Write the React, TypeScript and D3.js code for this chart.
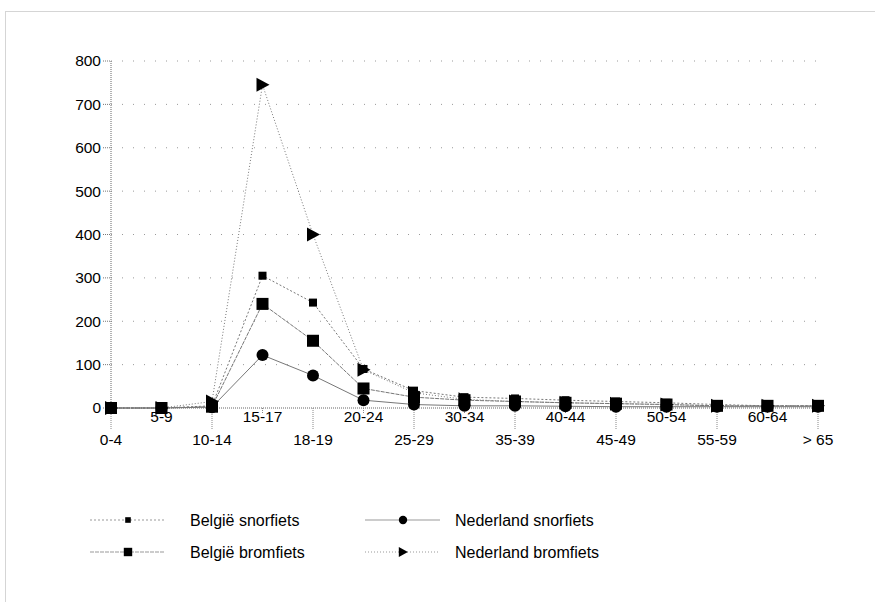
import React from "react";
import * as d3 from "d3";

const categories = ["0-4","5-9","10-14","15-17","18-19","20-24","25-29","30-34","35-39","40-44","45-49","50-54","55-59","60-64","> 65"];
const beSnor = [0,0,5,305,243,90,40,25,22,18,15,12,8,5,5];
const beBrom = [0,0,3,240,155,45,25,18,15,12,10,8,5,5,5];
const nlSnor = [0,0,2,122,75,18,8,5,5,4,3,3,3,3,3];
const nlBrom = [0,0,15,745,400,88,35,20,15,12,10,8,5,5,5];
const yTicks = [0,100,200,300,400,500,600,700,800];
const seriesNames = ["België snorfiets","België bromfiets","Nederland snorfiets","Nederland bromfiets"];

type Kind = "smallSquare" | "square" | "circle" | "triangle";

const series: { name: string; values: number[]; kind: Kind; dash: string }[] = [
  { name: seriesNames[0], values: beSnor, kind: "smallSquare", dash: "2,2" },
  { name: seriesNames[1], values: beBrom, kind: "square", dash: "4,1" },
  { name: seriesNames[2], values: nlSnor, kind: "circle", dash: "" },
  { name: seriesNames[3], values: nlBrom, kind: "triangle", dash: "1,2" },
];
const markerOrder = [3, 2, 1, 0];

function Marker({ kind, x, y, s = 1 }: { kind: Kind; x: number; y: number; s?: number }) {
  if (kind === "smallSquare") return <rect x={x - 4 * s} y={y - 4 * s} width={8 * s} height={8 * s} fill="#000" />;
  if (kind === "square") return <rect x={x - 6 * s} y={y - 6 * s} width={12 * s} height={12 * s} fill="#000" />;
  if (kind === "circle") return <circle cx={x} cy={y} r={6 * s} fill="#000" />;
  return <path d={`M${x - 6 * s},${y - 7 * s}L${x + 7 * s},${y}L${x - 6 * s},${y + 7 * s}Z`} fill="#000" />;
}

export default function App() {
  const W = 875, H = 602;
  const x = d3.scalePoint<string>().domain(categories).range([111, 818]);
  const y = d3.scaleLinear().domain([0, 800]).range([408, 61]);
  const line = d3.line<number>().x((_, i) => x(categories[i])!).y((d) => y(d));
  const font = "'Liberation Sans', Arial, sans-serif";
  const legendPos = [
    { lx: 90, ly: 520, tx: 190 }, { lx: 90, ly: 552, tx: 190 },
    { lx: 365, ly: 520, tx: 455 }, { lx: 365, ly: 552, tx: 455 },
  ];
  return (
    <svg width={W} height={H} style={{ position: "absolute", left: 0, top: 0 }} fontFamily={font}>
      <rect x={0} y={0} width={W} height={H} fill="#fff" />
      <rect x={5.5} y={11.5} width={W + 10} height={H + 10} fill="none" stroke="#aaa" strokeDasharray="1,1" />
      {yTicks.map((t) => (
        <g key={t}>
          {t > 0 && (
            <line x1={111} x2={818} y1={y(t)} y2={y(t)} stroke="#999" strokeDasharray="1,10" />
          )}
          <line x1={103} x2={111} y1={y(t)} y2={y(t)} stroke="#777" strokeDasharray="1,1" />
          <text x={101} y={y(t)} dy="0.35em" textAnchor="end" fontSize={15.5} fill="#000">{t}</text>
        </g>
      ))}
      <line x1={111} x2={111} y1={y(800)} y2={408} stroke="#666" strokeDasharray="1,1" />
      <line x1={111} x2={818} y1={408} y2={408} stroke="#666" strokeDasharray="1,1" />
      {categories.map((c, i) => (
        <g key={c}>
          <line x1={x(c)} x2={x(c)} y1={408} y2={i % 2 === 0 ? 430 : 414} stroke="#888" strokeDasharray="1,1" />
          <text x={x(c)} y={i % 2 === 0 ? 440 : 417} dy="0.35em" textAnchor="middle" fontSize={15.5} fill="#000">{c}</text>
        </g>
      ))}
      {series.map((s) => (
        <path key={s.name} d={line(s.values)!} fill="none" stroke="#777" strokeWidth={1} strokeDasharray={s.dash} />
      ))}
      {markerOrder.map((k) => {
        const s = series[k];
        return (
          <g key={s.name + "m"}>
            {s.values.map((v, i) => (
              <Marker key={i} kind={s.kind} x={x(categories[i])!} y={y(v)} />
            ))}
          </g>
        );
      })}
      {series.map((s, i) => {
        const p = legendPos[i];
        return (
          <g key={s.name + "l"}>
            <line x1={p.lx} x2={p.lx + 75} y1={p.ly} y2={p.ly} stroke="#999" strokeDasharray={s.dash || "none"} />
            <Marker kind={s.kind} x={p.lx + 38} y={p.ly} s={0.7} />
            <text x={p.tx} y={p.ly} dy="0.35em" fontSize={16} fill="#000">{s.name}</text>
          </g>
        );
      })}
    </svg>
  );
}
